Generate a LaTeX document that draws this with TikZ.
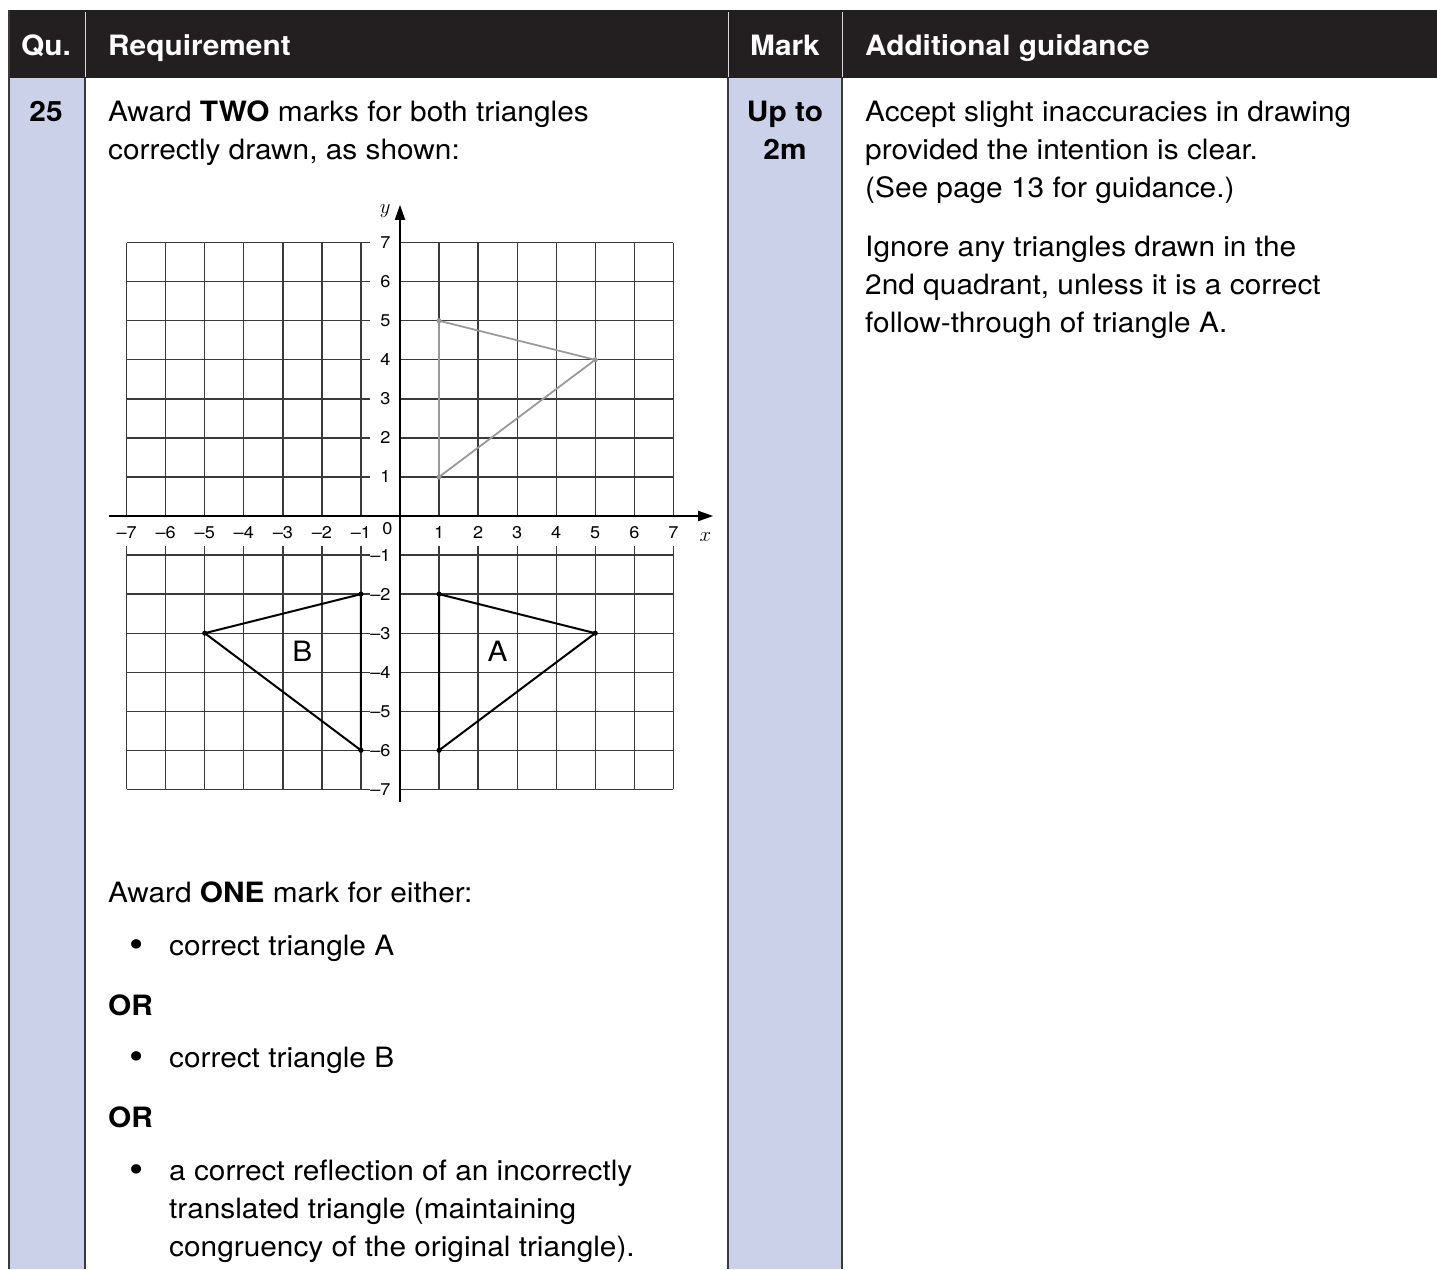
\documentclass[tikz,border=0pt]{standalone}
\usepackage{fontspec}
\setmainfont[FakeStretch=1.065]{TeX Gyre Heros}
\usetikzlibrary{arrows.meta}

\definecolor{markblue}{HTML}{CCD1EA}
\definecolor{headblack}{HTML}{231F20}
\definecolor{rulegray}{HTML}{3A3A3A}

\begin{document}
\begin{tikzpicture}[x=1pt,y=-1pt,
  txt/.style={anchor=base west,inner sep=0pt,font=\fontsize{28}{38}\selectfont},
  ctxt/.style={anchor=base,inner sep=0pt,font=\fontsize{28}{38}\selectfont\bfseries},
  head/.style={text=white,inner sep=0pt,font=\fontsize{28}{38}\selectfont\bfseries},
  dot/.style={anchor=base,inner sep=0pt,font=\fontsize{38}{38}\selectfont},
  rule/.style={rulegray,line width=2pt},
  gridline/.style={rulegray,line width=1.3pt},
  axis/.style={black,line width=1.8pt,-{Triangle[length=15pt,width=10pt]}},
  tick/.style={inner sep=0pt,font=\fontsize{17}{18}\selectfont},
  origtri/.style={black!40,line width=1.8pt,line join=round},
  imagetri/.style={black,line width=2pt,line join=round}]
\useasboundingbox (0,0) rectangle (1437,1269);

% table
\fill[headblack] (8,10) rectangle (1437,78);
\fill[markblue] (9,78) rectangle (85,1269);
\fill[markblue] (728,78) rectangle (842,1269);
\draw[rule,line width=2.5pt] (9,10) -- (9,1269);
\foreach \c in {85,728,842}{
  \draw[rule] (\c,78) -- (\c,1269);
  \draw[white!85!black,line width=1pt] (\c,12) -- (\c,77);
}

\node[head,anchor=base] (hqu) at (46,55) {Qu.};
\node[head,anchor=base west] (hreq) at (108,55) {Requirement};
\node[head,anchor=base] (hmark) at (785,55) {Mark};
\node[head,anchor=base west] (hguid) at (865,55) {Additional guidance};

\node[ctxt] (qnum) at (46,121) {25};
\node[txt] (req1) at (108,121) {Award \textbf{TWO} marks for both triangles};
\node[txt] (req2) at (108,159) {correctly drawn, as shown:};
\node[ctxt] (mark1) at (785,121) {Up to};
\node[ctxt] (mark2) at (785,159) {2m};

\node[txt] (gd1) at (865,121) {Accept slight inaccuracies in drawing};
\node[txt] (gd2) at (865,159) {provided the intention is clear.};
\node[txt] (gd3) at (865,197) {(See page 13 for guidance.)};
\node[txt] (gd4) at (865,256) {Ignore any triangles drawn in the};
\node[txt] (gd5) at (865,294) {2nd quadrant, unless it is a correct};
\node[txt] (gd6) at (865,332) {follow-through of triangle A.};

\node[txt] (one) at (108,902) {Award \textbf{ONE} mark for either:};
\node[dot] (bul1) at (137,957) {\textbullet};
\node[txt] (optA) at (169,955) {correct triangle A};
\node[txt] (or1) at (108,1015) {\textbf{OR}};
\node[dot] (bul2) at (137,1069) {\textbullet};
\node[txt] (optB) at (169,1067) {correct triangle B};
\node[txt] (or2) at (108,1127) {\textbf{OR}};
\node[dot] (bul3) at (137,1182) {\textbullet};
\node[txt] (optC1) at (169,1180) {a correct reflection of an incorrectly};
\node[txt] (optC2) at (169,1218) {translated triangle (maintaining};
\node[txt] (optC3) at (169,1256) {congruency of the original triangle).};

% the graph
\begin{scope}[shift={(400,516)},x=39.05pt,y=39.05pt]
\foreach \k in {1,...,7}{
  \draw[gridline] (-7,\k) -- (-0.78,\k) (0,\k) -- (7,\k);
  \draw[gridline] (-7,-\k) -- (-0.78,-\k) (0,-\k) -- (7,-\k);
  \draw[gridline] (\k,0) -- (\k,7) (-\k,0) -- (-\k,7);
  \draw[gridline] (\k,-0.78) -- (\k,-7) (-\k,-0.78) -- (-\k,-7);
  \node[tick] (xp\k) at (\k,-0.42) {\k};
  \node[tick] (xm\k) at (-\k,-0.42) {–\k};
  \node[tick,anchor=east] (yp\k) at (-0.24,\k) {\k};
  \node[tick,anchor=east] (ym\k) at (-0.24,-\k) {–\k};
}
\node[tick] (zero) at (-0.32,-0.33) {0};
\draw[axis] (-7.45,0) -- (8.02,0);
\draw[axis] (0,-7.33) -- (0,7.97);
\node[tick,font=\fontsize{20}{20}\selectfont] (ylab) at (-0.38,7.8) {$y$};
\node[tick,font=\fontsize{20}{20}\selectfont] (xlab) at (7.82,-0.55) {$x$};

\coordinate (o1) at (1,5);
\coordinate (o2) at (5,4);
\coordinate (o3) at (1,1);
\coordinate (a1) at (1,-2);
\coordinate (a2) at (5,-3);
\coordinate (a3) at (1,-6);
\coordinate (b1) at (-1,-2);
\coordinate (b2) at (-5,-3);
\coordinate (b3) at (-1,-6);
\draw[origtri] (o1) -- (o2) -- (o3) -- cycle;
\draw[imagetri] (a1) -- (a2) -- (a3) -- cycle;
\draw[imagetri] (b1) -- (b2) -- (b3) -- cycle;
\foreach \p in {o1,o2,o3} \fill[black!40] (\p) circle (2.6pt);
\foreach \p in {a1,a2,a3,b1,b2,b3} \fill (\p) circle (2.6pt);
\node[inner sep=0pt,font=\fontsize{28}{38}\selectfont] (labA) at (2.5,-3.47) {A};
\node[inner sep=0pt,font=\fontsize{28}{38}\selectfont] (labB) at (-2.5,-3.47) {B};
\end{scope}
\end{tikzpicture}
\end{document}
